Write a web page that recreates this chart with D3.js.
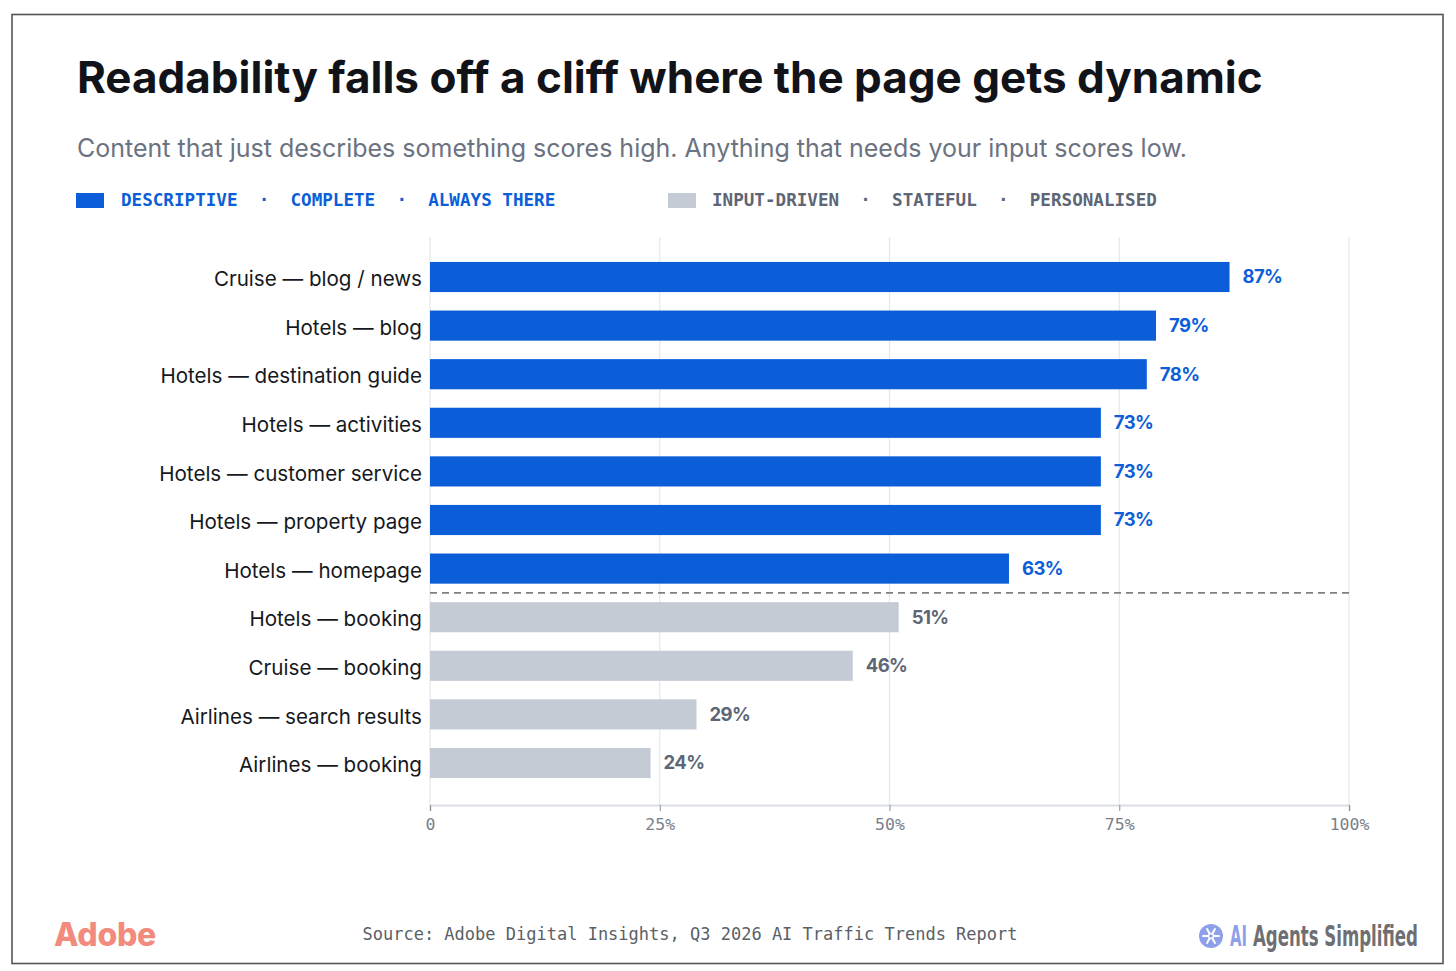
<!DOCTYPE html>
<html>
<head>
<meta charset="utf-8">
<script src="https://cdn.jsdelivr.net/npm/d3@7"></script>
<style>
  body { margin: 0; background: #fff; }
  text { white-space: pre; }
</style>
</head>
<body>
<svg id="chart"></svg>
<script>
const categories = [
  'Cruise — blog / news',
  'Hotels — blog',
  'Hotels — destination guide',
  'Hotels — activities',
  'Hotels — customer service',
  'Hotels — property page',
  'Hotels — homepage',
  'Hotels — booking',
  'Cruise — booking',
  'Airlines — search results',
  'Airlines — booking'
];
const values = [87, 79, 78, 73, 73, 73, 63, 51, 46, 29, 24];
const groups = ['desc', 'desc', 'desc', 'desc', 'desc', 'desc', 'desc', 'input', 'input', 'input', 'input'];
const xTicks = [0, 25, 50, 75, 100];
const legendItems = [
  { key: 'desc', label: 'DESCRIPTIVE  ·  COMPLETE  ·  ALWAYS THERE' },
  { key: 'input', label: 'INPUT-DRIVEN  ·  STATEFUL  ·  PERSONALISED' }
];

const width = 1456, height = 971;
const barColor = { desc: '#0b5ed7', input: '#c5cbd5' };
const valueColor = { desc: '#0b5ed7', input: '#5d6675' };
const sans = 'Inter, "Noto Sans", sans-serif';
const mono = '"DejaVu Sans Mono", "Liberation Mono", monospace';

const svg = d3.select('#chart').attr('width', width).attr('height', height);

// frame
svg.append('rect')
  .attr('x', 12).attr('y', 14.5)
  .attr('width', 1431).attr('height', 949)
  .attr('fill', '#fff').attr('stroke', '#555').attr('stroke-width', 1.6);

// title + subtitle
svg.append('text')
  .attr('x', 77).attr('y', 93)
  .attr('font-family', sans).attr('font-weight', 700).attr('font-size', 44)
  .attr('fill', '#111318')
  .text('Readability falls off a cliff where the page gets dynamic');

svg.append('text')
  .attr('x', 77).attr('y', 157)
  .attr('font-family', sans).attr('font-size', 25)
  .attr('fill', '#6b7280')
  .text('Content that just describes something scores high. Anything that needs your input scores low.');

// legend
const legendX = [76, 668];
legendItems.forEach((item, i) => {
  const g = svg.append('g').attr('transform', `translate(${legendX[i]},193)`);
  g.append('rect').attr('width', 28).attr('height', 15).attr('fill', barColor[item.key]);
  g.append('text')
    .attr('x', item.key === 'desc' ? 45 : 44).attr('y', 13)
    .attr('font-family', mono).attr('font-weight', 700).attr('font-size', 17.6)
    .attr('fill', item.key === 'desc' ? '#0b5ed7' : '#5d6675')
    .text(item.label);
});

// scales
const x = d3.scaleLinear().domain([0, 100]).range([430, 1349]);
const y = d3.scaleBand().domain(categories).range([252.7, 787.3])
  .paddingInner(0.38).paddingOuter(0.19);

const gridTop = 237, axisY = 805;

// grid
svg.append('g')
  .selectAll('line')
  .data(xTicks)
  .join('line')
  .attr('x1', d => x(d)).attr('x2', d => x(d))
  .attr('y1', gridTop).attr('y2', axisY)
  .attr('stroke', '#e3e7ec').attr('stroke-width', 1.2);

// bars
svg.append('g')
  .selectAll('rect')
  .data(categories)
  .join('rect')
  .attr('x', x(0))
  .attr('y', d => y(d))
  .attr('width', (d, i) => x(values[i]) - x(0))
  .attr('height', y.bandwidth())
  .attr('fill', (d, i) => barColor[groups[i]]);

// value labels
svg.append('g')
  .selectAll('text')
  .data(categories)
  .join('text')
  .attr('x', (d, i) => x(values[i]) + 13)
  .attr('y', d => y(d) + y.bandwidth() / 2)
  .attr('dy', '0.35em')
  .attr('font-family', sans).attr('font-weight', 700).attr('font-size', 18.5)
  .attr('letter-spacing', -0.6)
  .attr('fill', (d, i) => valueColor[groups[i]])
  .text((d, i) => values[i] + '%');

// category labels
svg.append('g')
  .selectAll('text')
  .data(categories)
  .join('text')
  .attr('x', 422)
  .attr('y', d => y(d) + y.bandwidth() / 2 + 2)
  .attr('dy', '0.35em')
  .attr('text-anchor', 'end')
  .attr('font-family', sans).attr('font-size', 20.6)
  .attr('fill', '#16181d')
  .text(d => d);

// separator between groups
const lastDesc = categories[groups.lastIndexOf('desc')];
const firstInput = categories[groups.indexOf('input')];
const sepY = (y(lastDesc) + y.bandwidth() + y(firstInput)) / 2;
svg.append('line')
  .attr('x1', x(0)).attr('x2', x(100))
  .attr('y1', sepY).attr('y2', sepY)
  .attr('stroke', '#808080').attr('stroke-width', 1.6)
  .attr('stroke-dasharray', '7,5');

// x axis
const xAxis = svg.append('g')
  .attr('transform', `translate(0,${axisY})`)
  .call(d3.axisBottom(x).tickValues(xTicks).tickSize(6).tickPadding(7)
    .tickFormat(d => d === 0 ? '0' : d + '%'));
xAxis.select('.domain').attr('stroke', '#d9dee5').attr('stroke-width', 2);
xAxis.selectAll('.tick line').attr('stroke', '#8a9099');
xAxis.selectAll('.tick text')
  .attr('font-family', mono).attr('font-size', 16.5).attr('fill', '#7a808a');

// footer
svg.append('text')
  .attr('x', 54).attr('y', 946)
  .attr('font-family', sans).attr('font-weight', 800).attr('font-size', 32)
  .attr('fill', '#f28b7d').attr('letter-spacing', -0.3)
  .text('Adobe');

svg.append('text')
  .attr('x', 690).attr('y', 940)
  .attr('text-anchor', 'middle')
  .attr('font-family', mono).attr('font-size', 17)
  .attr('fill', '#5b5f66')
  .text('Source: Adobe Digital Insights, Q3 2026 AI Traffic Trends Report');

// brand mark
const brand = svg.append('g').attr('transform', 'translate(1211,936)');
brand.append('circle').attr('r', 12).attr('fill', '#8ea0ea');
d3.range(6).forEach(k => {
  const a = k * Math.PI / 3;
  brand.append('line')
    .attr('x1', 0).attr('y1', 0)
    .attr('x2', 8 * Math.cos(a)).attr('y2', 8 * Math.sin(a))
    .attr('stroke', '#fff').attr('stroke-width', 2).attr('stroke-linecap', 'round');
});
brand.append('circle').attr('r', 2.5).attr('fill', '#8ea0ea').attr('stroke', '#fff').attr('stroke-width', 1.5);

// condensed brand words: squeeze each word to its measured width in the reference
const brandWords = [
  { text: 'AI', x: 1230, w: 17, fill: '#8ea0ea' },
  { text: 'Agents Simplified', x: 1253, w: 165, fill: '#6f6f73' }
];
brandWords.forEach(b => {
  const g = svg.append('g');
  const t = g.append('text')
    .attr('font-family', '"DejaVu Sans Condensed", "Liberation Sans Narrow", sans-serif')
    .attr('font-weight', 700).attr('font-size', 28)
    .attr('fill', b.fill)
    .text(b.text);
  const natural = t.node().getComputedTextLength();
  g.attr('transform', `translate(${b.x},946) scale(${b.w / natural},1)`);
});
</script>
</body>
</html>
